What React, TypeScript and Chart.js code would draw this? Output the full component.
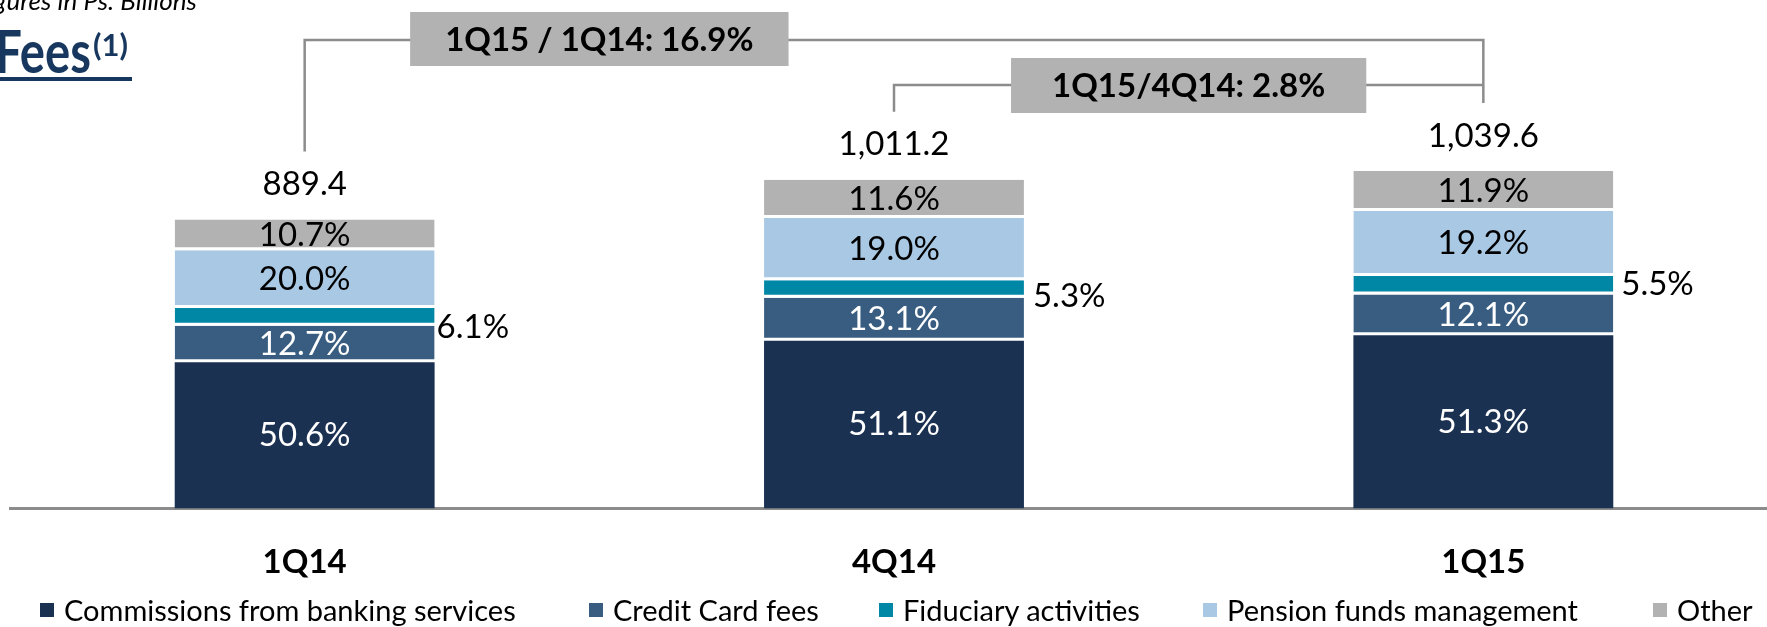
import React, { useEffect, useRef } from 'react';
import { Chart, registerables } from 'chart.js';

Chart.register(...registerables);

// ---------- data ----------
const categories = ['1Q14', '4Q14', '1Q15'];
const totals = [889.4, 1011.2, 1039.6];
const commissionsPct = [50.6, 51.1, 51.3];
const creditCardPct = [12.7, 13.1, 12.1];
const fiduciaryPct = [6.1, 5.3, 5.5];
const pensionPct = [20.0, 19.0, 19.2];
const otherPct = [10.7, 11.6, 11.9];
const seriesNames = [
  'Commissions from banking services',
  'Credit Card fees',
  'Fiduciary activities',
  'Pension funds management',
  'Other',
];
const growthLabels = ['1Q15 / 1Q14: 16.9%', '1Q15/4Q14: 2.8%'];
const titleText = 'Fees';
const titleNote = '(1)';
const subtitleText = 'Figures in Ps. Billions';

// ---------- style ----------
const seriesColors = ['#1B3152', '#385D80', '#0087A6', '#A9C8E3', '#B2B2B2'];
const labelColors = ['#FFFFFF', '#FFFFFF', '#000000', '#000000', '#000000'];
const FONT = 'Lato, "Open Sans", sans-serif';
const CANVAS_W = 1792;
const CANVAS_H = 627;
const AXIS_Y = 508.5;
const Y_MAX = 1566;
const fidLabelDx = [2, 9, 8];
const fidLabelDy = [10, 7, -1];
const legendLeft = [40, 589, 879, 1203, 1653];

const pctSeries = [commissionsPct, creditCardPct, fiduciaryPct, pensionPct, otherPct];

const annotationPlugin = {
  id: 'feesAnnotations',
  afterDatasetsDraw(chart: any) {
    const ctx = chart.ctx;
    ctx.save();
    ctx.font = `33px ${FONT}`;
    ctx.textBaseline = 'middle';
    chart.data.datasets.forEach((_ds: any, di: number) => {
      const meta = chart.getDatasetMeta(di);
      meta.data.forEach((bar: any, i: number) => {
        const { x, y, base, width } = bar.getProps(['x', 'y', 'base', 'width'], true);
        const text = pctSeries[di][i].toFixed(1) + '%';
        const cy = (y + base) / 2;
        ctx.fillStyle = labelColors[di];
        if (di === 2) {
          ctx.textAlign = 'left';
          ctx.fillText(text, x + width / 2 + fidLabelDx[i], cy + fidLabelDy[i]);
        } else {
          ctx.textAlign = 'center';
          ctx.fillText(text, x, cy);
        }
      });
    });
    const topMeta = chart.getDatasetMeta(chart.data.datasets.length - 1);
    ctx.fillStyle = '#000';
    ctx.textAlign = 'center';
    topMeta.data.forEach((bar: any, i: number) => {
      const t = totals[i].toLocaleString('en-US', { minimumFractionDigits: 1, maximumFractionDigits: 1 });
      ctx.fillText(t, bar.x, bar.y - 35);
    });
    ctx.restore();
  },
  afterDraw(chart: any) {
    const ctx = chart.ctx;
    const xs = categories.map((_c, i) => chart.scales.x.getPixelForValue(i));
    const tops = chart.getDatasetMeta(chart.data.datasets.length - 1).data.map((b: any) => b.y);
    const bigY = 40;
    const smallY = 85;
    const drop = 68;
    ctx.save();
    ctx.strokeStyle = '#8C8C8C';
    ctx.lineWidth = 2.5;
    ctx.beginPath();
    ctx.moveTo(xs[0], tops[0] - drop);
    ctx.lineTo(xs[0], bigY);
    ctx.lineTo(xs[2], bigY);
    ctx.lineTo(xs[2], tops[2] - drop);
    ctx.moveTo(xs[1], tops[1] - drop);
    ctx.lineTo(xs[1], smallY);
    ctx.lineTo(xs[2], smallY);
    ctx.stroke();

    const boxes = [
      { text: growthLabels[0], cx: (xs[0] + xs[1]) / 2, cy: 39, pad: 35, h: 54 },
      { text: growthLabels[1], cx: (xs[1] + xs[2]) / 2, cy: 85.5, pad: 41, h: 55 },
    ];
    ctx.font = `bold 33px ${FONT}`;
    ctx.textAlign = 'center';
    ctx.textBaseline = 'middle';
    boxes.forEach((b) => {
      const w = ctx.measureText(b.text).width + 2 * b.pad;
      ctx.fillStyle = '#B2B2B2';
      ctx.fillRect(b.cx - w / 2, b.cy - b.h / 2, w, b.h);
      ctx.fillStyle = '#000';
      ctx.fillText(b.text, b.cx, b.cy + 1);
    });

    // title block
    ctx.fillStyle = '#000';
    ctx.font = `italic 26px ${FONT}`;
    ctx.textAlign = 'right';
    ctx.textBaseline = 'alphabetic';
    ctx.fillText(subtitleText, 197, 10);

    ctx.fillStyle = '#17375E';
    ctx.save();
    ctx.translate(91, 73);
    ctx.scale(0.8, 1);
    ctx.font = `bold 59px ${FONT}`;
    ctx.textAlign = 'right';
    ctx.fillText(titleText, 0, 0);
    ctx.restore();
    ctx.font = `bold 31px ${FONT}`;
    ctx.textAlign = 'left';
    ctx.fillText(titleNote, 93, 56);
    ctx.fillRect(0, 77, 132, 4);
    ctx.restore();
  },
};

export default function App() {
  const ref = useRef<HTMLCanvasElement>(null);
  useEffect(() => {
    const datasets = seriesNames.map((name, di) => ({
      label: name,
      data: totals.map((t, i) => (t * pctSeries[di][i]) / 100),
      backgroundColor: seriesColors[di],
      borderColor: '#FFFFFF',
      borderWidth: di === 0 ? 0 : { top: 0, left: 0, right: 0, bottom: 3 },
      borderSkipped: false,
      barPercentage: 0.441,
      categoryPercentage: 1,
    }));
    const chart = new Chart(ref.current as HTMLCanvasElement, {
      type: 'bar',
      data: { labels: categories, datasets },
      options: {
        responsive: false,
        animation: false,
        devicePixelRatio: 1,
        layout: { padding: { left: 10, right: 14, top: 0, bottom: 0 } },
        plugins: {
          tooltip: { enabled: false },
          legend: { display: false },
        },
        scales: {
          x: {
            stacked: true,
            offset: true,
            grid: { display: false },
            border: { display: true, color: '#8C8C8C', width: 3 },
            ticks: { color: '#000', padding: 26, font: { family: FONT, size: 33, weight: 'bold' } },
            afterFit: (scale: any) => {
              scale.height = CANVAS_H - AXIS_Y;
            },
          },
          y: { stacked: true, display: false, min: 0, max: Y_MAX },
        },
      },
      plugins: [annotationPlugin],
    } as any);
    return () => chart.destroy();
  }, []);
  return (
    <div
      style={{
        position: 'absolute',
        left: 0,
        top: 0,
        width: 1767,
        height: 627,
        overflow: 'hidden',
        background: '#fff',
      }}
    >
      <canvas ref={ref} width={CANVAS_W} height={CANVAS_H} style={{ display: 'block', width: CANVAS_W, height: CANVAS_H }} />
      {seriesNames.map((name, i) => (
        <div
          key={name}
          style={{
            position: 'absolute',
            left: legendLeft[i],
            top: 595,
            height: 30,
            display: 'flex',
            alignItems: 'center',
            whiteSpace: 'nowrap',
            fontFamily: FONT,
            fontSize: 29,
            lineHeight: '30px',
            color: '#000',
          }}
        >
          <span style={{ display: 'inline-block', width: 14, height: 14, background: seriesColors[i], marginRight: 10, flex: 'none' }} />
          <span>{name}</span>
        </div>
      ))}
    </div>
  );
}
